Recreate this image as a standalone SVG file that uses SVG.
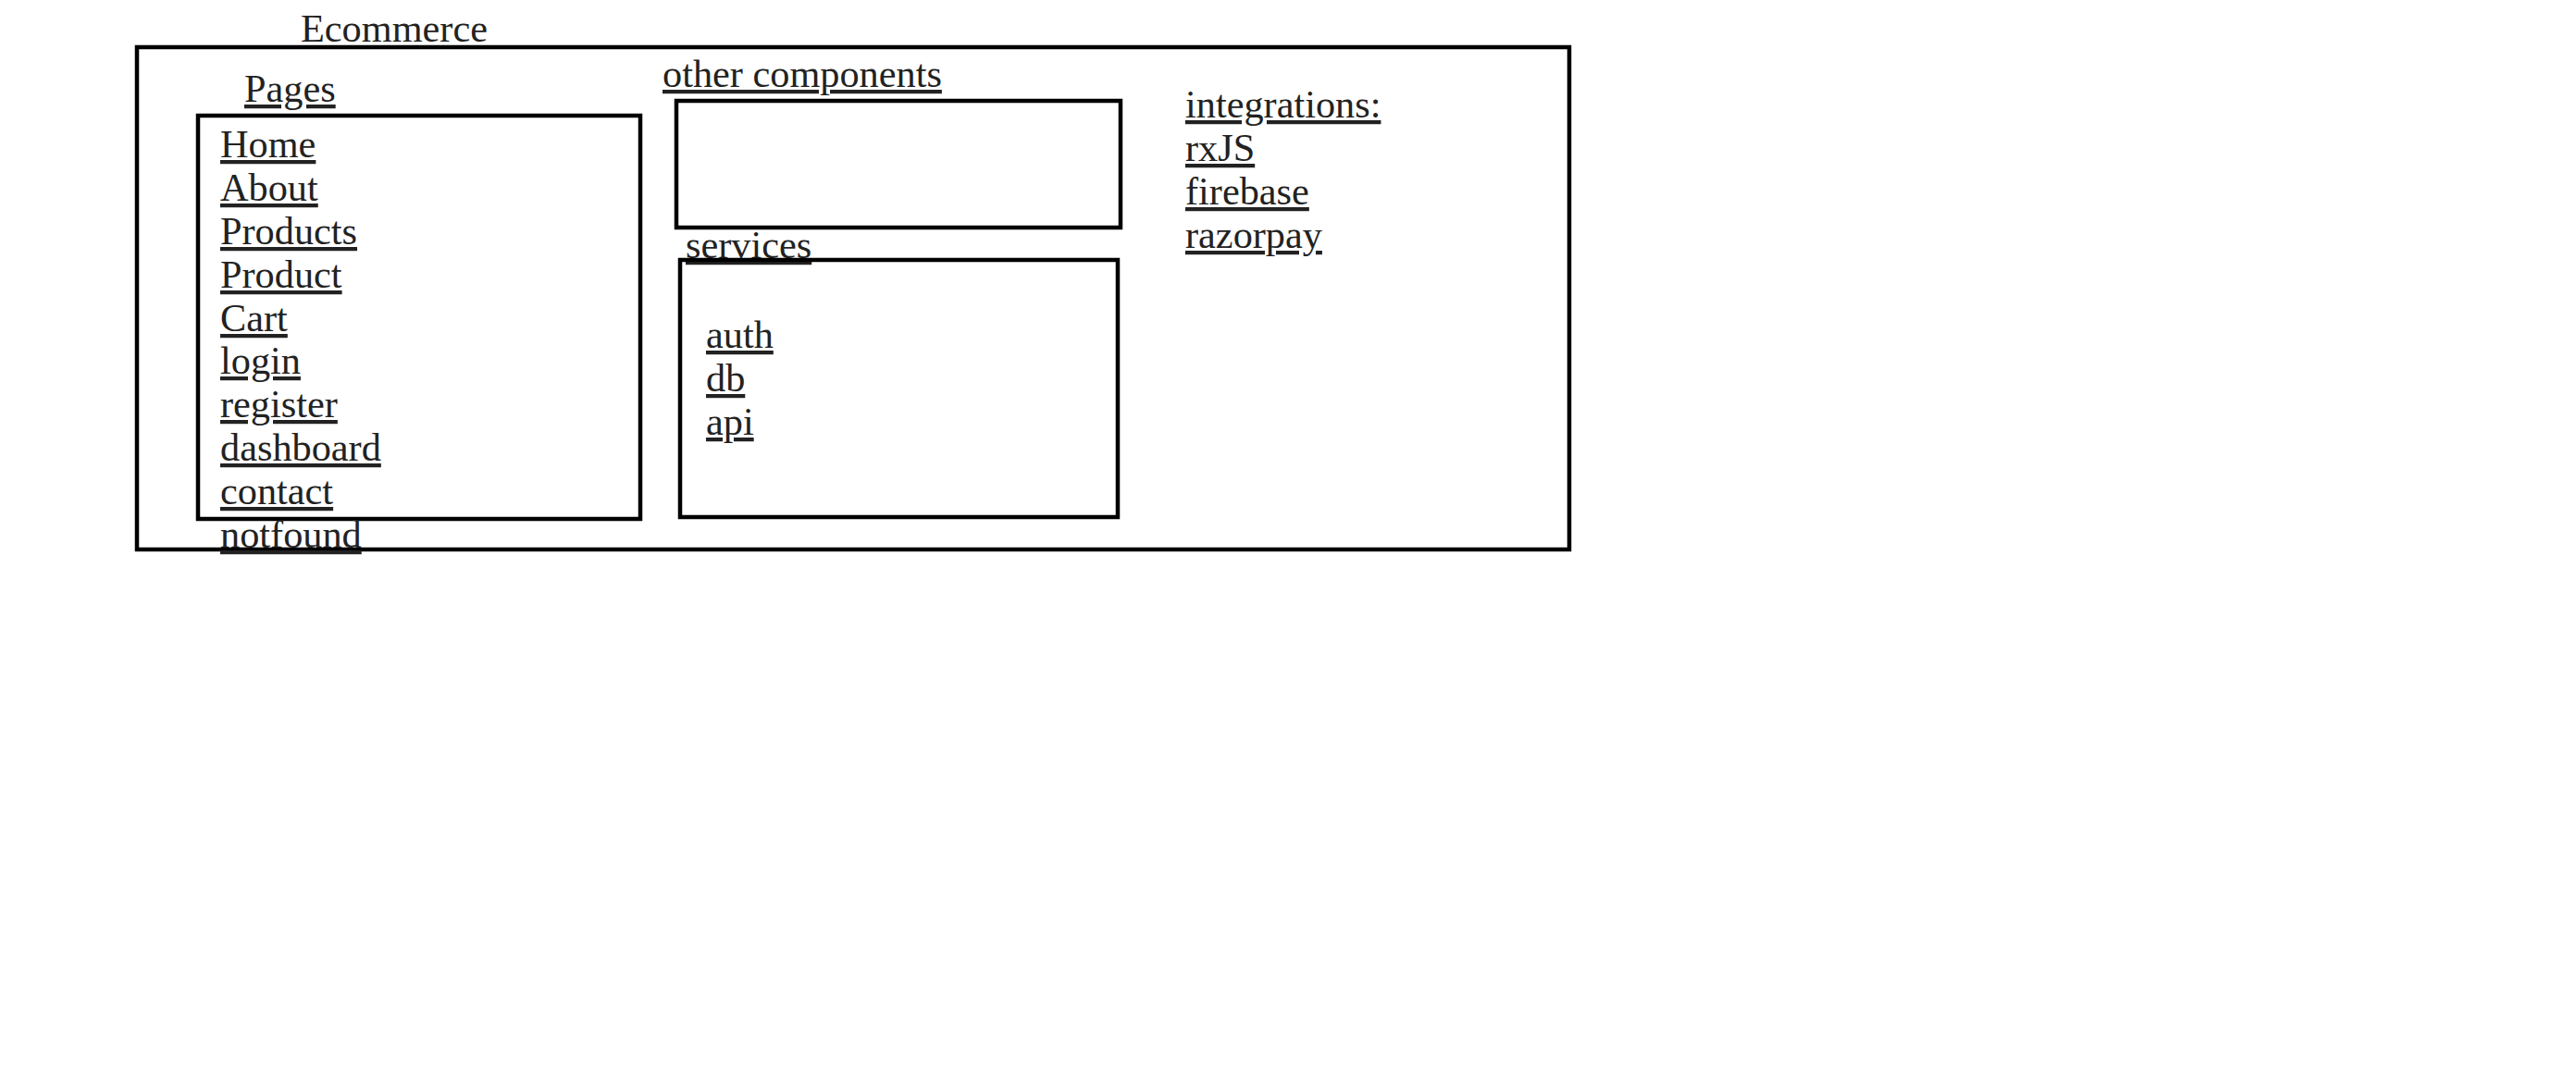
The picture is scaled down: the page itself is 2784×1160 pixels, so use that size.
<svg xmlns="http://www.w3.org/2000/svg" width="2784" height="1160" viewBox="0 0 2784 1160">
<style>
.box{fill:none;stroke:#000;stroke-width:4.5}
.t{font-family:"Liberation Serif","Times New Roman",serif;font-size:42.3px;fill:#222}
.u{text-decoration:underline}
</style>
<rect x="0" y="0" width="2784" height="1160" fill="#fff"/>
<g id="ecommerce">
<rect class="box" x="148" y="51" width="1548" height="543"/>
<text class="t" x="325" y="45">Ecommerce</text>
</g>
<g id="pages">
<text class="t u" x="264" y="110">Pages</text>
<rect class="box" x="214" y="125" width="478" height="436"/>
<text class="t u" x="238" y="170">Home</text>
<text class="t u" x="238" y="217">About</text>
<text class="t u" x="238" y="264">Products</text>
<text class="t u" x="238" y="311">Product</text>
<text class="t u" x="238" y="358">Cart</text>
<text class="t u" x="238" y="404">login</text>
<text class="t u" x="238" y="451">register</text>
<text class="t u" x="238" y="498">dashboard</text>
<text class="t u" x="238" y="545">contact</text>
<text class="t u" x="238" y="592">notfound</text>
</g>
<g id="other-components">
<text class="t u" x="716" y="94">other components</text>
<rect class="box" x="731" y="109" width="480" height="137"/>
</g>
<g id="services">
<text class="t u" x="741" y="279">services</text>
<rect class="box" x="735" y="281" width="473" height="278"/>
<text class="t u" x="763" y="376">auth</text>
<text class="t u" x="763" y="423">db</text>
<text class="t u" x="763" y="470">api</text>
</g>
<g id="integrations">
<text class="t u" x="1281" y="127">integrations:</text>
<text class="t u" x="1281" y="174">rxJS</text>
<text class="t u" x="1281" y="221">firebase</text>
<text class="t u" x="1281" y="268">razorpay</text>
</g>
<g id="connectors"></g>
</svg>
